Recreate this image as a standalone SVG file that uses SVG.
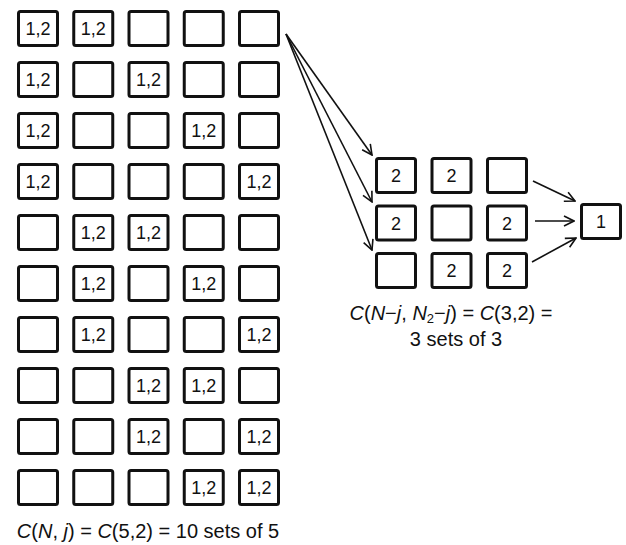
<svg xmlns="http://www.w3.org/2000/svg" width="626" height="545" viewBox="0 0 626 545">
<defs>
<style>
.b{fill:#fff;stroke:#111;stroke-width:3}
.t{font-family:"Liberation Sans",Arial,sans-serif;font-size:18px;fill:#111;text-anchor:middle;dominant-baseline:central}
.lbl{font-family:"Liberation Sans",Arial,sans-serif;font-size:20px;fill:#111;text-anchor:middle}
.c{fill:none;stroke:#111;stroke-width:1.6;marker-end:url(#ah)}
</style>
<marker id="ah" viewBox="0 0 12 12" refX="11" refY="6" markerWidth="12" markerHeight="12" markerUnits="userSpaceOnUse" orient="auto">
<path d="M1,1 L11,6 L1,11" fill="none" stroke="#111" stroke-width="1.6"/>
</marker>
</defs>
<rect width="626" height="545" fill="#fff"/>
<g id="grid5">
<g id="r1"><rect class="b" x="18.5" y="11.5" width="39" height="34" rx="2"/><text class="t" x="38" y="29">1,2</text><rect class="b" x="73.75" y="11.5" width="39" height="34" rx="2"/><text class="t" x="93.25" y="29">1,2</text><rect class="b" x="129" y="11.5" width="39" height="34" rx="2"/><rect class="b" x="184.25" y="11.5" width="39" height="34" rx="2"/><rect class="b" x="239.5" y="11.5" width="39" height="34" rx="2"/></g>
<g id="r2"><rect class="b" x="18.5" y="62.5" width="39" height="34" rx="2"/><text class="t" x="38" y="80">1,2</text><rect class="b" x="73.75" y="62.5" width="39" height="34" rx="2"/><rect class="b" x="129" y="62.5" width="39" height="34" rx="2"/><text class="t" x="148.5" y="80">1,2</text><rect class="b" x="184.25" y="62.5" width="39" height="34" rx="2"/><rect class="b" x="239.5" y="62.5" width="39" height="34" rx="2"/></g>
<g id="r3"><rect class="b" x="18.5" y="113.5" width="39" height="34" rx="2"/><text class="t" x="38" y="131">1,2</text><rect class="b" x="73.75" y="113.5" width="39" height="34" rx="2"/><rect class="b" x="129" y="113.5" width="39" height="34" rx="2"/><rect class="b" x="184.25" y="113.5" width="39" height="34" rx="2"/><text class="t" x="203.75" y="131">1,2</text><rect class="b" x="239.5" y="113.5" width="39" height="34" rx="2"/></g>
<g id="r4"><rect class="b" x="18.5" y="164.5" width="39" height="34" rx="2"/><text class="t" x="38" y="182">1,2</text><rect class="b" x="73.75" y="164.5" width="39" height="34" rx="2"/><rect class="b" x="129" y="164.5" width="39" height="34" rx="2"/><rect class="b" x="184.25" y="164.5" width="39" height="34" rx="2"/><rect class="b" x="239.5" y="164.5" width="39" height="34" rx="2"/><text class="t" x="259" y="182">1,2</text></g>
<g id="r5"><rect class="b" x="18.5" y="215.5" width="39" height="34" rx="2"/><rect class="b" x="73.75" y="215.5" width="39" height="34" rx="2"/><text class="t" x="93.25" y="233">1,2</text><rect class="b" x="129" y="215.5" width="39" height="34" rx="2"/><text class="t" x="148.5" y="233">1,2</text><rect class="b" x="184.25" y="215.5" width="39" height="34" rx="2"/><rect class="b" x="239.5" y="215.5" width="39" height="34" rx="2"/></g>
<g id="r6"><rect class="b" x="18.5" y="266.5" width="39" height="34" rx="2"/><rect class="b" x="73.75" y="266.5" width="39" height="34" rx="2"/><text class="t" x="93.25" y="284">1,2</text><rect class="b" x="129" y="266.5" width="39" height="34" rx="2"/><rect class="b" x="184.25" y="266.5" width="39" height="34" rx="2"/><text class="t" x="203.75" y="284">1,2</text><rect class="b" x="239.5" y="266.5" width="39" height="34" rx="2"/></g>
<g id="r7"><rect class="b" x="18.5" y="317.5" width="39" height="34" rx="2"/><rect class="b" x="73.75" y="317.5" width="39" height="34" rx="2"/><text class="t" x="93.25" y="335">1,2</text><rect class="b" x="129" y="317.5" width="39" height="34" rx="2"/><rect class="b" x="184.25" y="317.5" width="39" height="34" rx="2"/><rect class="b" x="239.5" y="317.5" width="39" height="34" rx="2"/><text class="t" x="259" y="335">1,2</text></g>
<g id="r8"><rect class="b" x="18.5" y="368.5" width="39" height="34" rx="2"/><rect class="b" x="73.75" y="368.5" width="39" height="34" rx="2"/><rect class="b" x="129" y="368.5" width="39" height="34" rx="2"/><text class="t" x="148.5" y="386">1,2</text><rect class="b" x="184.25" y="368.5" width="39" height="34" rx="2"/><text class="t" x="203.75" y="386">1,2</text><rect class="b" x="239.5" y="368.5" width="39" height="34" rx="2"/></g>
<g id="r9"><rect class="b" x="18.5" y="419.5" width="39" height="34" rx="2"/><rect class="b" x="73.75" y="419.5" width="39" height="34" rx="2"/><rect class="b" x="129" y="419.5" width="39" height="34" rx="2"/><text class="t" x="148.5" y="437">1,2</text><rect class="b" x="184.25" y="419.5" width="39" height="34" rx="2"/><rect class="b" x="239.5" y="419.5" width="39" height="34" rx="2"/><text class="t" x="259" y="437">1,2</text></g>
<g id="r10"><rect class="b" x="18.5" y="470.5" width="39" height="34" rx="2"/><rect class="b" x="73.75" y="470.5" width="39" height="34" rx="2"/><rect class="b" x="129" y="470.5" width="39" height="34" rx="2"/><rect class="b" x="184.25" y="470.5" width="39" height="34" rx="2"/><text class="t" x="203.75" y="488">1,2</text><rect class="b" x="239.5" y="470.5" width="39" height="34" rx="2"/><text class="t" x="259" y="488">1,2</text></g>
</g>
<g id="grid3">
<g id="s1"><rect class="b" x="376.5" y="158.5" width="39" height="34" rx="2"/><text class="t" x="396" y="176">2</text><rect class="b" x="432" y="158.5" width="39" height="34" rx="2"/><text class="t" x="451.5" y="176">2</text><rect class="b" x="487.5" y="158.5" width="39" height="34" rx="2"/></g>
<g id="s2"><rect class="b" x="376.5" y="206" width="39" height="34" rx="2"/><text class="t" x="396" y="223.5">2</text><rect class="b" x="432" y="206" width="39" height="34" rx="2"/><rect class="b" x="487.5" y="206" width="39" height="34" rx="2"/><text class="t" x="507" y="223.5">2</text></g>
<g id="s3"><rect class="b" x="376.5" y="253.5" width="39" height="34" rx="2"/><rect class="b" x="432" y="253.5" width="39" height="34" rx="2"/><text class="t" x="451.5" y="271">2</text><rect class="b" x="487.5" y="253.5" width="39" height="34" rx="2"/><text class="t" x="507" y="271">2</text></g>
</g>
<g id="final"><rect class="b" x="581.5" y="204.5" width="39" height="34" rx="2"/><text class="t" x="601" y="222">1</text></g>
<g id="connectors">
<line class="c" x1="286" y1="34" x2="372" y2="155"/>
<line class="c" x1="286" y1="34" x2="372" y2="202"/>
<line class="c" x1="286" y1="34" x2="372" y2="250"/>
<line class="c" x1="533" y1="181" x2="575" y2="201"/>
<line class="c" x1="535" y1="221" x2="574" y2="221"/>
<line class="c" x1="532" y1="262" x2="576" y2="238"/>
</g>
<g id="labels">
<text class="lbl" x="451" y="320"><tspan font-style="italic">C</tspan>(<tspan font-style="italic">N</tspan>−<tspan font-style="italic">j</tspan>, <tspan font-style="italic">N</tspan><tspan font-size="13" baseline-shift="-3">2</tspan>−<tspan font-style="italic">j</tspan>) = <tspan font-style="italic">C</tspan>(3,2) =</text>
<text class="lbl" x="456" y="346">3 sets of 3</text>
<text class="lbl" x="148" y="538"><tspan font-style="italic">C</tspan>(<tspan font-style="italic">N</tspan>, <tspan font-style="italic">j</tspan>) = <tspan font-style="italic">C</tspan>(5,2) = 10 sets of 5</text>
</g>
</svg>
